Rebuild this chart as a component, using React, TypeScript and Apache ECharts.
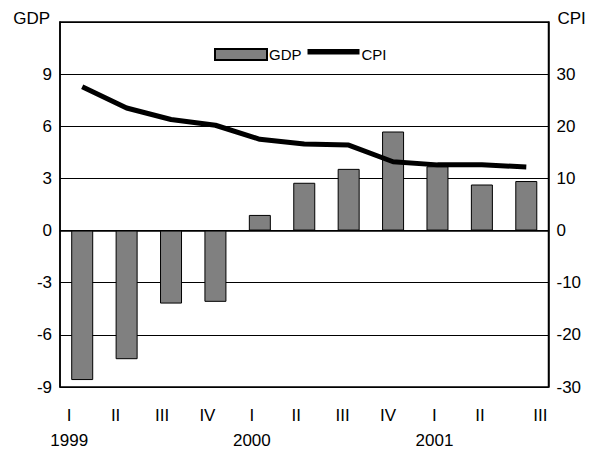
import React, { useEffect, useRef } from "react";
import * as echarts from "echarts";

const quarters = ["I", "II", "III", "IV", "I", "II", "III", "IV", "I", "II", "III"];
const years = ["1999", "", "", "", "2000", "", "", "", "2001", "", ""];
const gdp = [-8.6, -7.4, -4.2, -4.1, 0.9, 2.75, 3.55, 5.7, 3.7, 2.65, 2.85];
const cpi = [27.6, 23.5, 21.3, 20.2, 17.5, 16.6, 16.4, 13.2, 12.6, 12.6, 12.2];

const labelShift = [-13, -11, -9, -8, -8, -8, -6, -5, -3, -2, 14];

const FONT = "'Liberation Sans', Arial, sans-serif";
const LINE_ICON = "path://M0,0 L52,0 L52,5.5 L0,5.5 Z M0,11 L0.01,11 L0,11 Z";

export default function App() {
  const ref = useRef<HTMLDivElement>(null);
  useEffect(() => {
    if (!ref.current) return;
    const chart = echarts.init(ref.current, null, { renderer: "svg" });
    const rich: Record<string, any> = {};
    labelShift.forEach((d, i) => {
      rich["o" + i] = {
        fontSize: 17,
        fontFamily: FONT,
        color: "#000",
        lineHeight: 25,
        padding: d < 0 ? [0, -2 * d, 0, 0] : [0, 0, 0, 2 * d],
      };
    });
    chart.setOption({
      animation: false,
      textStyle: { fontFamily: FONT },
      grid: { left: 60, right: 40.5, top: 22, bottom: 61, show: true, borderColor: "#000", borderWidth: 1.5 },
      legend: {
        left: 214,
        top: 47,
        padding: 0,
        itemWidth: 52,
        itemHeight: 11,
        itemGap: 6,
        textStyle: { fontSize: 15, color: "#000", fontFamily: FONT, padding: [0, 0, 0, -3] },
        data: [
          { name: "GDP", icon: "rect" },
          { name: "CPI", icon: LINE_ICON, itemStyle: { color: "#000", borderWidth: 0 } },
        ],
      },
      xAxis: {
        type: "category",
        data: quarters,
        axisLine: { show: true, lineStyle: { color: "#000", width: 1.5 } },
        axisTick: { show: false },
        axisLabel: {
          margin: 16,
          interval: 0,
          formatter: (v: string, i: number) =>
            `{o${i}|${v}}\n{o${i}|${years[i] || " "}}`,
          rich,
        },
      },
      yAxis: [
        {
          type: "value",
          min: -9,
          max: 12,
          interval: 3,
          name: "GDP",
          nameLocation: "end",
          nameGap: 0,
          nameTextStyle: { fontSize: 17, color: "#000", fontFamily: FONT, align: "right", verticalAlign: "bottom", padding: [0, 10, -5, 0] },
          axisLine: { show: true, lineStyle: { color: "#000", width: 1.5 } },
          axisTick: { show: false },
          axisLabel: { showMaxLabel: false, fontSize: 17, color: "#000", margin: 8, fontFamily: FONT },
          splitLine: { show: true, lineStyle: { color: "#000", width: 1 } },
        },
        {
          type: "value",
          min: -30,
          max: 40,
          interval: 10,
          name: "CPI",
          nameLocation: "end",
          nameGap: 0,
          nameTextStyle: { fontSize: 17, color: "#000", fontFamily: FONT, align: "left", verticalAlign: "bottom", padding: [0, 0, -5, 9] },
          axisLine: { show: true, lineStyle: { color: "#000", width: 1.5 } },
          axisTick: { show: false },
          axisLabel: { showMaxLabel: false, fontSize: 17, color: "#000", margin: 8, fontFamily: FONT },
          splitLine: { show: false },
        },
      ],
      series: [
        {
          name: "GDP",
          type: "bar",
          data: gdp,
          barWidth: 22,
          itemStyle: { color: "#808080", borderColor: "#000", borderWidth: 1 },
        },
        {
          name: "CPI",
          type: "line",
          yAxisIndex: 1,
          data: cpi,
          symbol: "none",
          showSymbol: false,
          lineStyle: { color: "#000", width: 5 },
          itemStyle: { color: "#000" },
        },
      ],
    });
    return () => chart.dispose();
  }, []);
  return <div ref={ref} style={{ width: 589, height: 449, position: "absolute", left: 0, top: 0 }} />;
}
